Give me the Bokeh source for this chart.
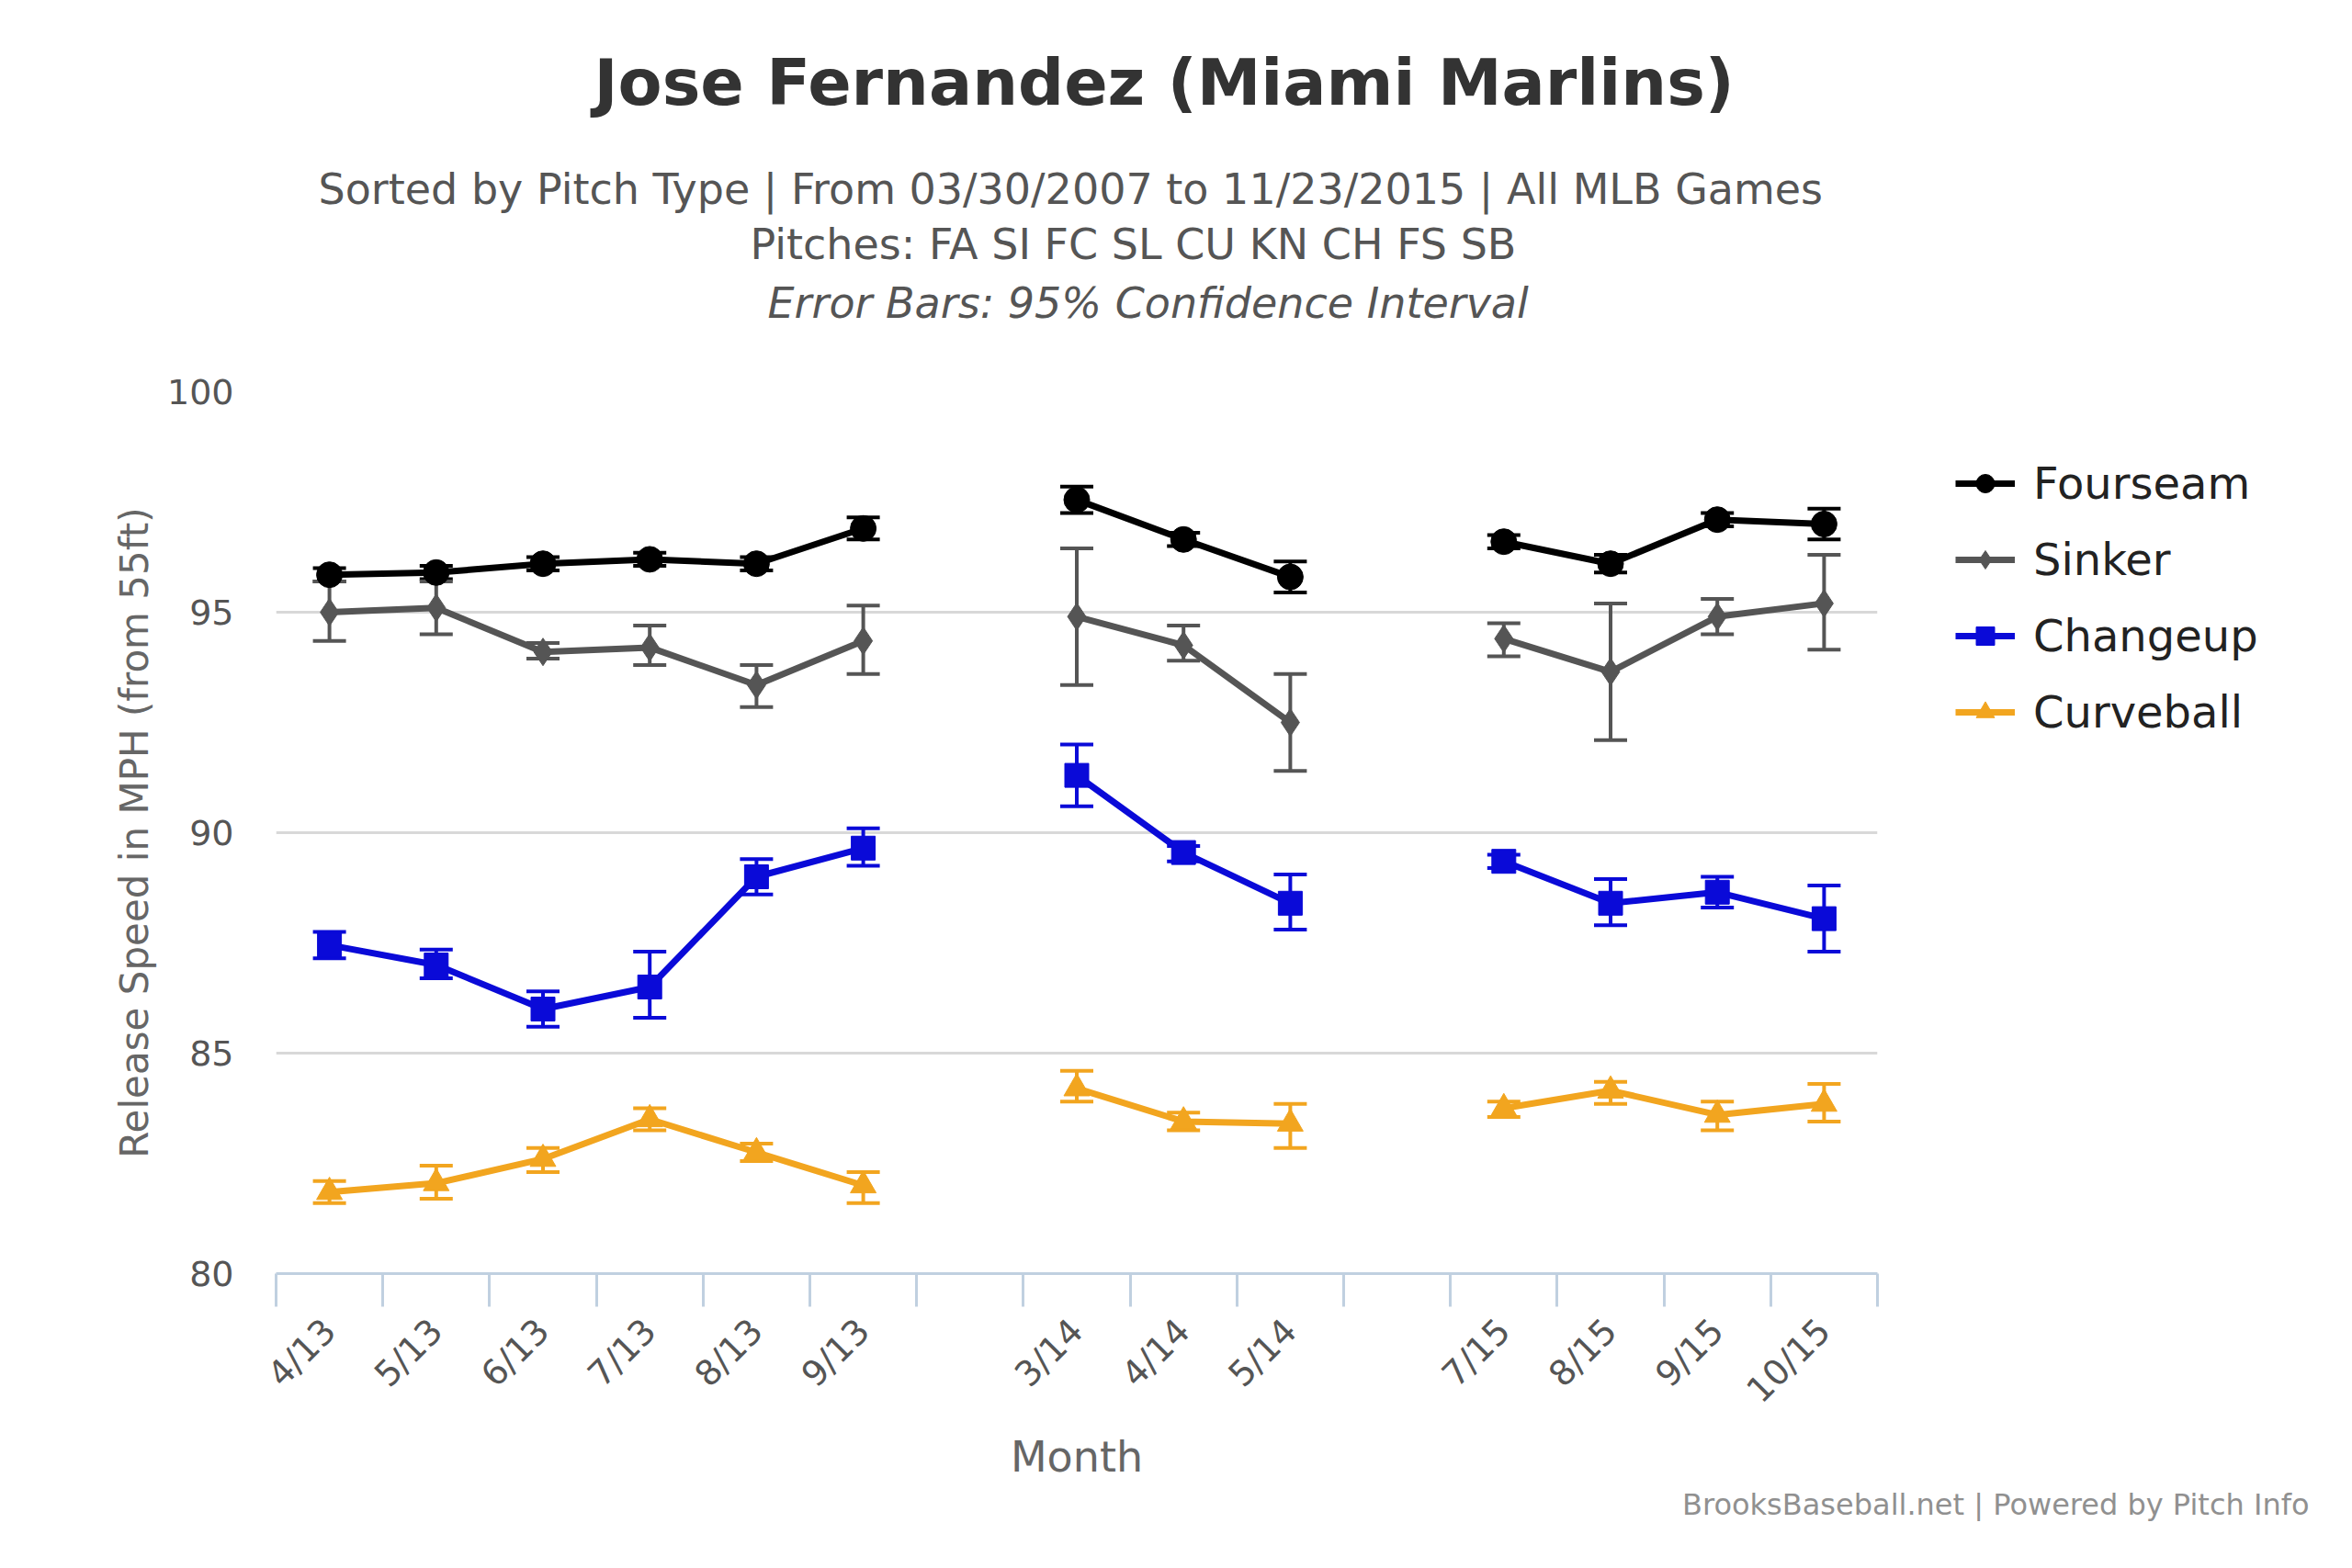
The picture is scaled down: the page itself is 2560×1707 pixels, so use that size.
import math
from bokeh.plotting import figure
from bokeh.models import (ColumnDataSource, Whisker, FixedTicker, Legend, LegendItem,
                          Title, Range1d)
from bokeh.embed import file_html
from bokeh.resources import INLINE

months = ["4/13", "5/13", "6/13", "7/13", "8/13", "9/13", "", "3/14", "4/14", "5/14", "",
          "7/15", "8/15", "9/15", "10/15"]
slots = [0, 1, 2, 3, 4, 5, 7, 8, 9, 11, 12, 13, 14]  # slots with data

fourseam = [95.85, 95.9, 96.1, 96.2, 96.1, 96.9, 97.55, 96.65, 95.8, 96.6, 96.1, 97.1, 97.0]
fourseam_lo = [95.7, 95.75, 95.95, 96.05, 95.95, 96.65, 97.25, 96.5, 95.45, 96.45, 95.9, 96.95, 96.65]
fourseam_hi = [96.0, 96.05, 96.25, 96.35, 96.25, 97.15, 97.85, 96.8, 96.15, 96.75, 96.3, 97.25, 97.35]

sinker = [95.0, 95.1, 94.1, 94.2, 93.35, 94.35, 94.9, 94.25, 92.5, 94.4, 93.65, 94.9, 95.2]
sinker_lo = [94.35, 94.5, 93.95, 93.8, 92.85, 93.6, 93.35, 93.9, 91.4, 94.0, 92.1, 94.5, 94.15]
sinker_hi = [95.7, 95.7, 94.3, 94.7, 93.8, 95.15, 96.45, 94.7, 93.6, 94.75, 95.2, 95.3, 96.3]

changeup = [87.45, 87.0, 86.0, 86.5, 89.0, 89.65, 91.3, 89.55, 88.4, 89.35, 88.4, 88.65, 88.05]
changeup_lo = [87.15, 86.7, 85.6, 85.8, 88.6, 89.25, 90.6, 89.35, 87.8, 89.2, 87.9, 88.3, 87.3]
changeup_hi = [87.75, 87.35, 86.4, 87.3, 89.4, 90.1, 92.0, 89.7, 89.05, 89.5, 88.95, 89.0, 88.8]

curveball = [81.85, 82.05, 82.6, 83.5, 82.75, 82.0, 84.2, 83.45, 83.4, 83.75, 84.15, 83.6, 83.85]
curveball_lo = [81.6, 81.7, 82.3, 83.25, 82.55, 81.6, 83.9, 83.25, 82.85, 83.55, 83.85, 83.25, 83.45]
curveball_hi = [82.1, 82.45, 82.85, 83.75, 82.95, 82.3, 84.6, 83.65, 83.85, 83.9, 84.35, 83.9, 84.3]

segments = [(0, 6), (6, 9), (9, 13)]
FONT = "DejaVu Sans"

p = figure(frame_width=1743, frame_height=960, output_backend="svg", toolbar_location=None,
           x_range=Range1d(-0.5, 14.5), y_range=Range1d(80, 100))
p.title.visible = False
p.outline_line_color = None
p.background_fill_color = "white"
p.min_border_left = 300
p.min_border_right = 10
p.min_border_bottom = 40

series = [
    ("Fourseam", fourseam, fourseam_lo, fourseam_hi, "#000000", "circle", 28),
    ("Sinker", sinker, sinker_lo, sinker_hi, "#555555", "diamond", 30),
    ("Changeup", changeup, changeup_lo, changeup_hi, "#0a0ad8", "square", 26),
    ("Curveball", curveball, curveball_lo, curveball_hi, "#f2a51f", "triangle", 28),
]

items = []
for name, vals, lo, hi, color, marker, size in series:
    rends = []
    for a, b in segments:
        src = ColumnDataSource(dict(x=slots[a:b], y=vals[a:b], lo=lo[a:b], hi=hi[a:b]))
        w = Whisker(source=src, base="x", lower="lo", upper="hi", line_color=color, line_width=4)
        for h in (w.upper_head, w.lower_head):
            h.line_color = color
            h.line_width = 4
            h.size = 36
        p.add_layout(w)
        l = p.line("x", "y", source=src, line_color=color, line_width=7)
        s = p.scatter("x", "y", source=src, marker=marker, size=size, fill_color=color,
                      line_color=color)
        rends.append(l)
        rends.append(s)
    items.append(LegendItem(label=name, renderers=rends[:2]))

legend = Legend(items=items, location=(85, 583), label_text_font=FONT,
                label_text_font_size="48px", label_text_color="#222222", border_line_color=None,
                glyph_width=65, glyph_height=50, spacing=27, label_standoff=20,
                margin=0, padding=0)
p.add_layout(legend, "right")

# axes
p.yaxis.ticker = FixedTicker(ticks=[80, 85, 90, 95, 100])
p.yaxis.axis_line_color = None
p.yaxis.major_tick_line_color = None
p.yaxis.minor_tick_line_color = None
p.yaxis.major_label_text_font = FONT
p.yaxis.major_label_text_font_size = "38px"
p.yaxis.major_label_text_color = "#555555"
p.yaxis.major_label_standoff = 40
p.yaxis.axis_label = "Release Speed in MPH (from 55ft)"
p.yaxis.axis_label_text_font = FONT
p.yaxis.axis_label_text_font_size = "42px"
p.yaxis.axis_label_text_font_style = "normal"
p.yaxis.axis_label_text_color = "#666666"
p.yaxis.axis_label_standoff = 8

p.xaxis.ticker = FixedTicker(ticks=list(range(15)), minor_ticks=[i - 0.5 for i in range(16)])
p.xaxis.major_label_overrides = {i: m for i, m in enumerate(months)}
p.xaxis.major_label_orientation = math.pi / 4
p.xaxis.major_tick_line_color = None
p.xaxis.minor_tick_line_color = "#c0d0e0"
p.xaxis.minor_tick_line_width = 3
p.xaxis.minor_tick_out = 36
p.xaxis.minor_tick_in = 0
p.xaxis.axis_line_color = "#c0d0e0"
p.xaxis.axis_line_width = 3
p.xaxis.major_label_text_font = FONT
p.xaxis.major_label_text_font_size = "38px"
p.xaxis.major_label_text_color = "#555555"
p.xaxis.major_label_standoff = 20
p.xaxis.axis_label = "Month"
p.xaxis.axis_label_text_font = FONT
p.xaxis.axis_label_text_font_size = "46px"
p.xaxis.axis_label_text_font_style = "normal"
p.xaxis.axis_label_text_color = "#666666"
p.xaxis.axis_label_standoff = 5

p.xgrid.grid_line_color = None
p.ygrid.grid_line_color = "#d8d8d8"
p.ygrid.grid_line_width = 3

p.add_layout(Title(text="BrooksBaseball.net | Powered by Pitch Info", text_font=FONT,
                   text_font_size="32px", text_font_style="normal", text_color="#909090",
                   align="right", offset=-470, standoff=0), "below")

# titles (first added = nearest to plot)
p.add_layout(Title(text=" ", text_font=FONT, text_font_size="55px", standoff=0), "above")
p.add_layout(Title(text="Error Bars: 95% Confidence Interval", text_font=FONT,
                   text_font_size="46px", text_font_style="italic", text_color="#555555",
                   align="left", offset=535, standoff=8), "above")
p.add_layout(Title(text="Pitches: FA SI FC SL CU KN CH FS SB", text_font=FONT,
                   text_font_size="46px", text_font_style="normal", text_color="#555555",
                   align="left", offset=516, standoff=8), "above")
p.add_layout(Title(text="Sorted by Pitch Type | From 03/30/2007 to 11/23/2015 | All MLB Games",
                   text_font=FONT, text_font_size="46px", text_font_style="normal",
                   text_color="#555555", align="left", offset=46, standoff=0), "above")
p.add_layout(Title(text="Jose Fernandez (Miami Marlins)", text_font=FONT,
                   text_font_size="70px", text_font_style="bold", text_color="#333333",
                   align="left", offset=346, standoff=92), "above")

open("out.html", "w").write(file_html(p, INLINE))
